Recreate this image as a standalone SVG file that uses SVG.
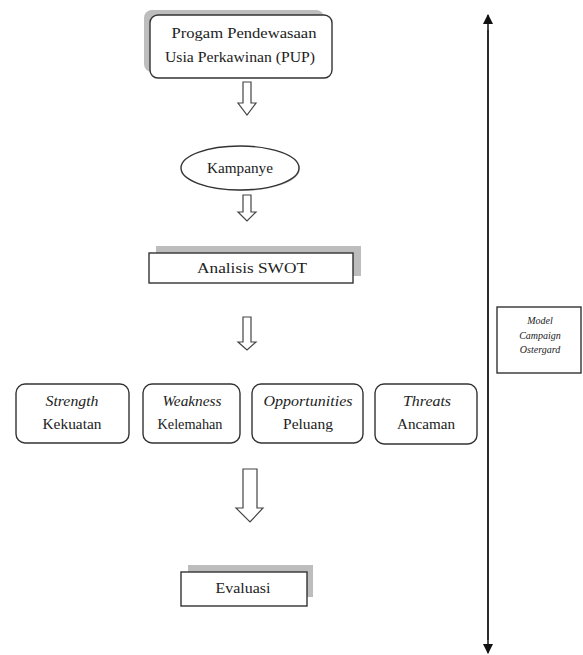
<svg xmlns="http://www.w3.org/2000/svg" width="583" height="655" viewBox="0 0 583 655">
<defs>
<style>
text{font-family:"Liberation Serif","Times New Roman",serif;fill:#222;text-anchor:middle}
.t{font-size:15px}
.i{font-style:italic}
.box{fill:#fff;stroke:#333;stroke-width:1.4}
.sh{fill:#bdbdbd}
.arr{fill:#fff;stroke:#444;stroke-width:1.2}
.ln{stroke:#222;stroke-width:1.6;fill:none}
</style>
<marker id="ah" markerWidth="10" markerHeight="10" refX="9" refY="5" orient="auto" markerUnits="userSpaceOnUse">
<path d="M0,0 L10,5 L0,10 z" fill="#111"/>
</marker>
</defs>
<rect width="583" height="655" fill="#fff"/>

<g id="pup">
<rect class="sh" x="144" y="10" width="180" height="62" rx="8"/>
<rect class="box" x="150" y="15" width="182" height="63" rx="8"/>
<text class="t" x="244" y="38" textLength="145" lengthAdjust="spacingAndGlyphs">Progam Pendewasaan</text>
<text class="t" x="240" y="62" textLength="150" lengthAdjust="spacingAndGlyphs">Usia Perkawinan (PUP)</text>
</g>

<g id="kampanye">
<ellipse cx="241" cy="169" rx="59" ry="22" fill="#aaa" opacity="0.6"/>
<ellipse class="box" cx="240" cy="168" rx="59" ry="22"/>
<text class="t" x="240" y="173" textLength="66" lengthAdjust="spacingAndGlyphs">Kampanye</text>
</g>

<g id="swot">
<rect class="sh" x="156" y="246" width="205" height="30"/>
<rect class="box" x="149" y="253" width="204" height="30"/>
<text class="t" x="252" y="273" textLength="110" lengthAdjust="spacingAndGlyphs">Analisis SWOT</text>
</g>

<g id="strength">
<rect class="box" x="16" y="384" width="113" height="59" rx="9"/>
<text class="t i" x="72" y="406" textLength="53" lengthAdjust="spacingAndGlyphs">Strength</text>
<text class="t" x="72" y="429" textLength="59" lengthAdjust="spacingAndGlyphs">Kekuatan</text>
</g>

<g id="weakness">
<rect class="box" x="143" y="384" width="97" height="59" rx="9"/>
<text class="t i" x="192" y="406" textLength="59" lengthAdjust="spacingAndGlyphs">Weakness</text>
<text class="t" x="190" y="429" textLength="65" lengthAdjust="spacingAndGlyphs">Kelemahan</text>
</g>

<g id="opportunities">
<rect class="box" x="252" y="384" width="111" height="59" rx="9"/>
<text class="t i" x="308" y="406" textLength="89" lengthAdjust="spacingAndGlyphs">Opportunities</text>
<text class="t" x="308" y="429" textLength="50" lengthAdjust="spacingAndGlyphs">Peluang</text>
</g>

<g id="threats">
<rect class="box" x="375" y="384" width="102" height="60" rx="9"/>
<text class="t i" x="427" y="406" textLength="48" lengthAdjust="spacingAndGlyphs">Threats</text>
<text class="t" x="426" y="429" textLength="58" lengthAdjust="spacingAndGlyphs">Ancaman</text>
</g>

<g id="evaluasi">
<rect class="sh" x="188" y="565" width="125" height="32"/>
<rect class="box" x="181" y="572" width="126" height="34"/>
<text class="t" x="243" y="593" textLength="55" lengthAdjust="spacingAndGlyphs">Evaluasi</text>
</g>

<g id="model">
<rect class="box" x="497" y="307" width="84" height="66"/>
<text class="i" x="540" y="324" font-size="10">Model</text>
<text class="i" x="540" y="339" font-size="10">Campaign</text>
<text class="i" x="540" y="353" font-size="10">Ostergard</text>
</g>

<g id="connectors">
<path class="arr" d="M243,82 H251 V103 H256 L247,115 L238,103 H243 Z"/>
<path class="arr" d="M243,195 H251 V212 H256 L247,221 L238,212 H243 Z"/>
<path class="arr" d="M243,317 H251 V342 H256 L247,350 L238,342 H243 Z"/>
<path class="arr" d="M243,469 H257 V508 H263 L250,522 L236,508 H243 Z"/>
<line class="ln" x1="488" y1="640" x2="488" y2="15" marker-end="url(#ah)"/>
<line class="ln" x1="488" y1="30" x2="488" y2="653" marker-end="url(#ah)"/>
</g>
</svg>
